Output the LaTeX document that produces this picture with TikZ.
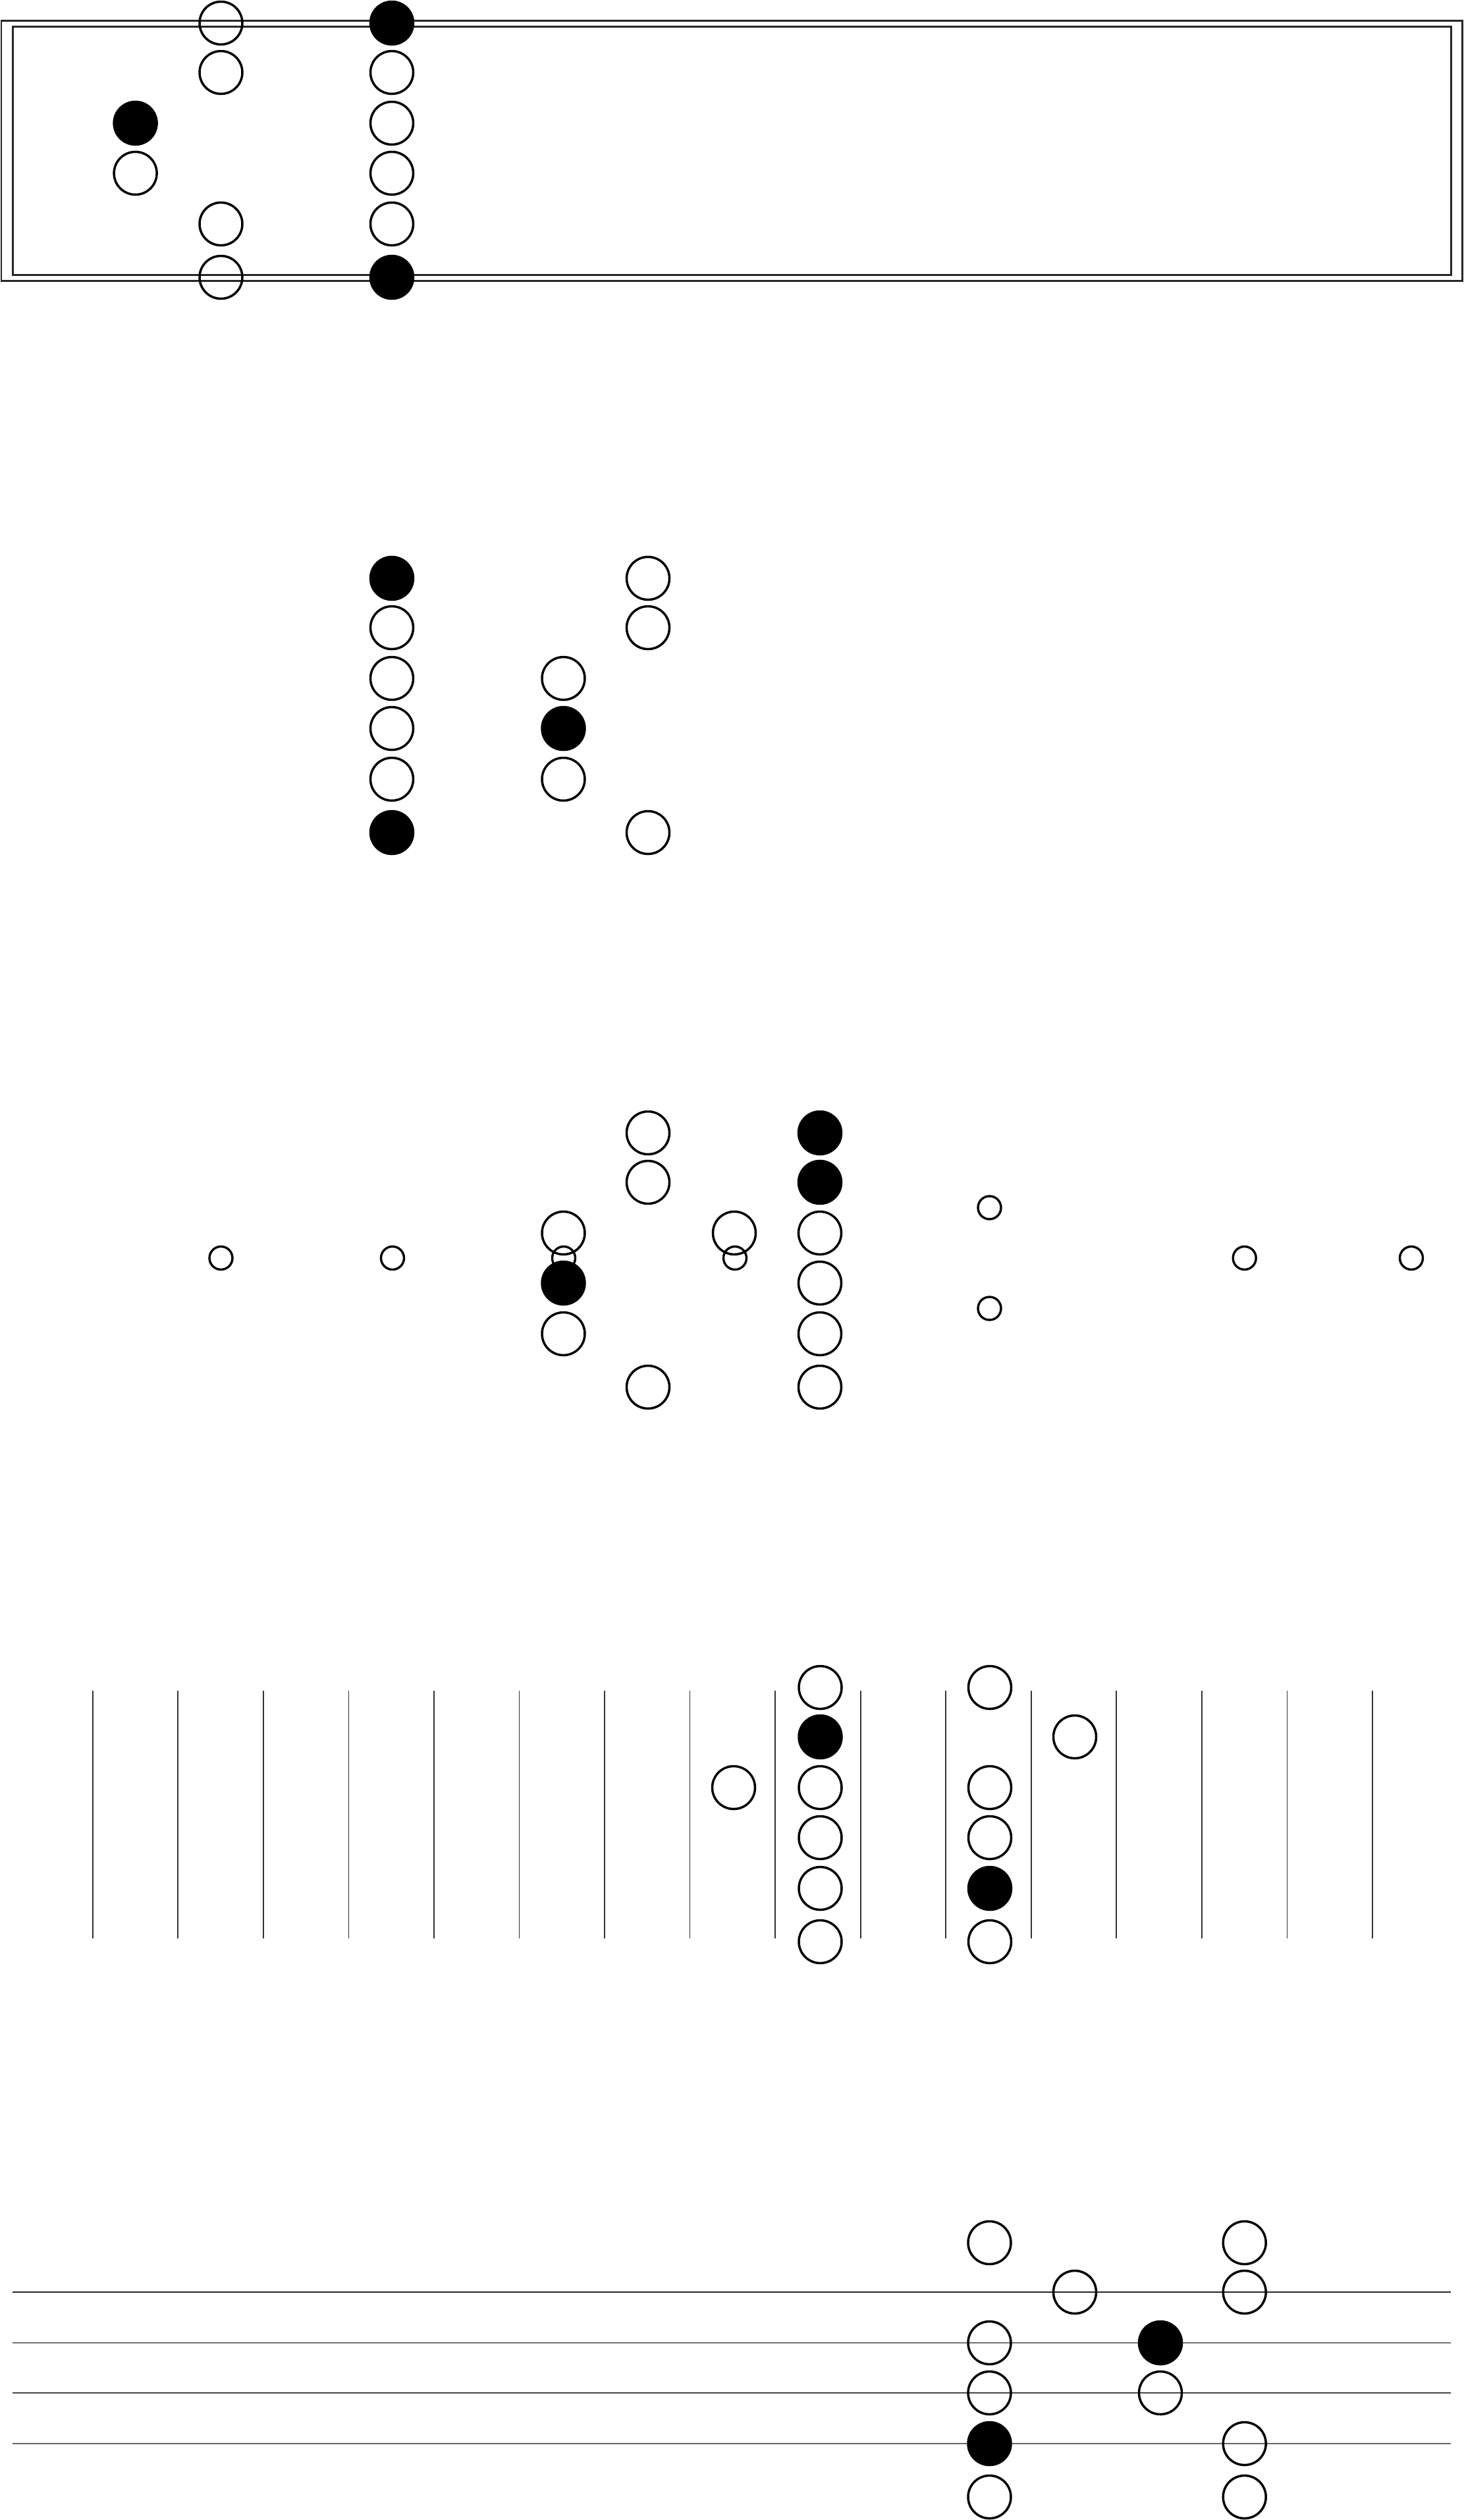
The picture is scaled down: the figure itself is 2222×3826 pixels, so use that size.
\documentclass[tikz,border=0pt]{standalone}
\begin{document}
\begin{tikzpicture}[x=0.1mm,y=-0.1mm,
  oc/.style={circle,draw=black,line width=0.35mm,minimum size=6.5mm,inner sep=0pt},
  fc/.style={oc,fill=black},
  sc/.style={circle,draw=black,line width=0.34mm,minimum size=3.5mm,inner sep=0pt},
  frame/.style={draw=black!85,line width=0.3mm},
  fret/.style={draw=black!80,line width=0.17mm},
  strng/.style={line width=0.17mm}]
\useasboundingbox (0,0) rectangle (2222,3826);

% ---------- Section 1: double frame ----------
\draw[frame] (2,31) rectangle (2220,426);
\draw[frame] (19,40) rectangle (2203,417);
\foreach \n/\s/\x/\y in {
  a1/fc/205.6/187, a2/oc/205.6/263,
  b1/oc/335.5/35, b2/oc/335.5/110, b3/oc/335.5/340, b4/oc/335.5/421,
  c1/fc/595/35, c2/oc/595/110, c3/oc/595/187, c4/oc/595/263, c5/oc/595/340, c6/fc/595/421}
  \node[\s] (s1\n) at (\x,\y) {};

% ---------- Section 2 ----------
\foreach \n/\s/\x/\y in {
  a1/fc/595/878, a2/oc/595/953, a3/oc/595/1030, a4/oc/595/1106, a5/oc/595/1183, a6/fc/595/1264,
  b1/oc/855.5/1030, b2/fc/855.5/1106, b3/oc/855.5/1183,
  c1/oc/984/878, c2/oc/984/953, c3/oc/984/1264}
  \node[\s] (s2\n) at (\x,\y) {};

% ---------- Section 3 ----------
\foreach \n/\s/\x/\y in {
  a1/oc/984/1720, a2/oc/984/1795, a3/oc/984/2106,
  b1/oc/855.5/1872, b2/fc/855.5/1948, b3/oc/855.5/2025,
  c1/oc/1115/1872,
  d1/fc/1245/1720, d2/fc/1245/1795, d3/oc/1245/1872, d4/oc/1245/1948, d5/oc/1245/2025, d6/oc/1245/2106}
  \node[\s] (s3\n) at (\x,\y) {};
\foreach \n/\x/\y in {
  e1/335.5/1910, e2/596/1910, e3/856/1910, e4/1116/1910,
  e5/1502.5/1833.5, e6/1502.5/1986.5, e7/1889.7/1910, e8/2143/1910}
  \node[sc] (s3\n) at (\x,\y) {};

% ---------- Section 4: vertical lines ----------
\foreach \j in {0,...,15} {
  \coordinate (v\j t) at ({140.7+129.55*\j},2567);
  \coordinate (v\j b) at ({140.7+129.55*\j},2943);
  \draw[fret] (v\j t) -- (v\j b);
}
\foreach \n/\s/\x/\y in {
  a1/oc/1114/2714,
  b1/oc/1245.5/2562, b2/fc/1245.5/2637, b3/oc/1245.5/2714, b4/oc/1245.5/2790, b5/oc/1245.5/2867, b6/oc/1245.5/2948,
  c1/oc/1503/2562, c2/oc/1503/2714, c3/oc/1503/2790, c4/fc/1503/2867, c5/oc/1503/2948,
  d1/oc/1632/2637}
  \node[\s] (s4\n) at (\x,\y) {};

% ---------- Section 5: horizontal lines ----------
\foreach \j/\yy/\cc in {1/3480/black!85, 2/3557/black!55, 3/3633/black!72, 4/3710/black!60} {
  \coordinate (h\j l) at (19,\yy);
  \coordinate (h\j r) at (2203,\yy);
  \draw[strng,draw=\cc] (h\j l) -- (h\j r);
}
\foreach \n/\s/\x/\y in {
  a1/oc/1502.5/3405, a2/oc/1502.5/3557, a3/oc/1502.5/3633, a4/fc/1502.5/3710, a5/oc/1502.5/3791,
  b1/oc/1632/3480,
  c1/fc/1762/3557, c2/oc/1762/3633,
  d1/oc/1889.7/3405, d2/oc/1889.7/3480, d3/oc/1889.7/3710, d4/oc/1889.7/3791}
  \node[\s] (s5\n) at (\x,\y) {};
\end{tikzpicture}
\end{document}
